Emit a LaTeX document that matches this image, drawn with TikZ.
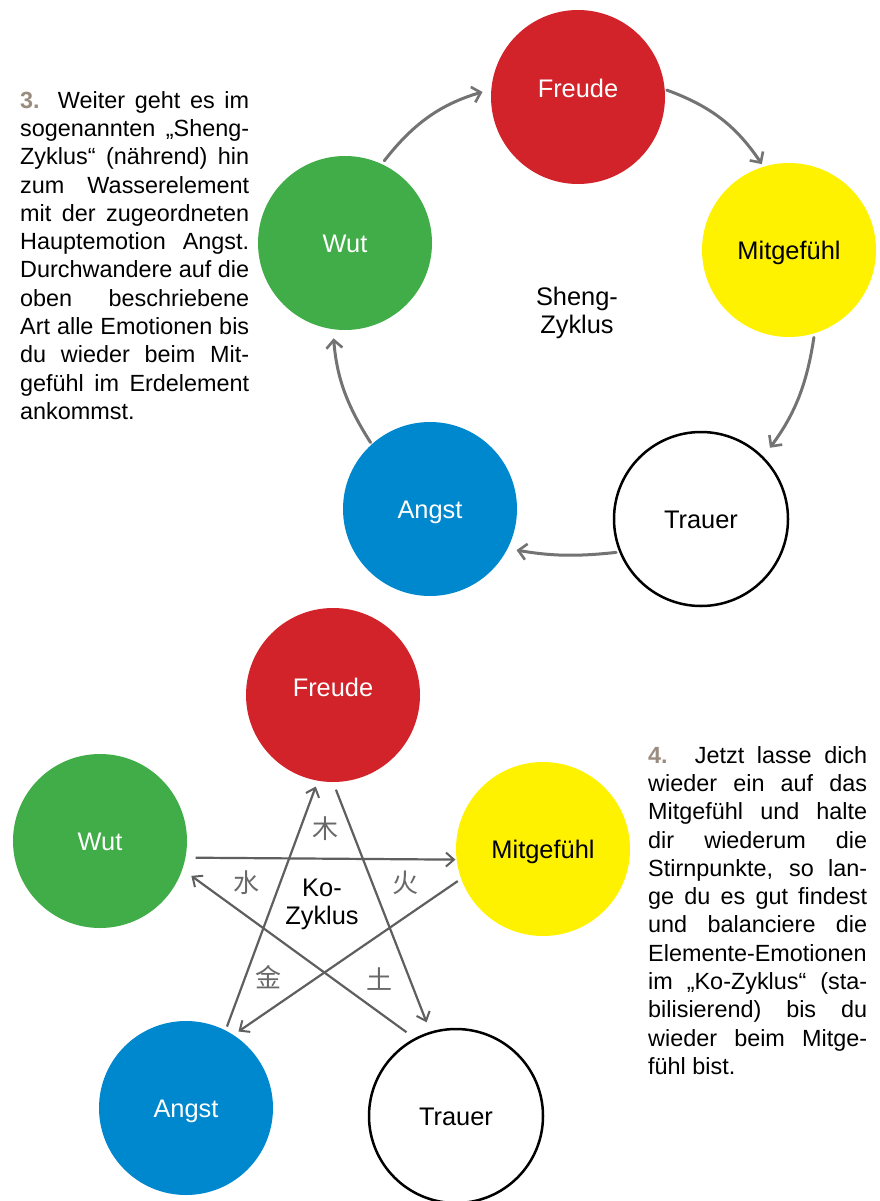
\documentclass[tikz,border=0pt]{standalone}
\usepackage{fontspec}
\setmainfont{Liberation Sans}
\newfontfamily\cjk{Noto Sans CJK SC}
\usetikzlibrary{arrows.meta}
\definecolor{cred}{RGB}{210,35,42}
\definecolor{cgreen}{RGB}{65,173,73}
\definecolor{cyellow}{RGB}{255,242,0}
\definecolor{cblue}{RGB}{0,136,206}
\definecolor{numcol}{RGB}{155,140,128}
\definecolor{arrcol}{RGB}{115,115,115}
\definecolor{starcol}{RGB}{95,95,95}
\definecolor{cjkcol}{RGB}{105,105,105}
\tikzset{
  emo/.style={circle, minimum size=174pt, inner sep=0pt, text height=18pt, text depth=0pt,
    font=\fontsize{25.4}{28}\selectfont},
  emored/.style={emo, fill=cred, text=white, text depth=16pt},
  emogreen/.style={emo, fill=cgreen, text=white},
  emoyellow/.style={emo, fill=cyellow, text=black},
  emoblue/.style={emo, fill=cblue, text=white},
  emowhite/.style={emo, fill=white, draw=black, line width=2.5pt, text=black},
  cyclearrow/.style={draw=arrcol, line width=3pt, line cap=round,
    -{Straight Barb[length=8pt,width=16pt,line width=2.6pt]}},
  stararrow/.style={draw=starcol, line width=2.2pt,
    -{Straight Barb[length=8pt,width=14pt,line width=2pt]}},
  cyclelabel/.style={align=center, inner sep=0pt, anchor=north, font=\fontsize{25.4}{28}\selectfont},
  paratext/.style={align=justify, inner sep=0pt, anchor=north west,
    font=\fontsize{23.4}{28.3}\selectfont},
  cjkchar/.style={inner sep=0pt, text=cjkcol, font=\cjk\fontsize{26}{26}\selectfont}
}
\begin{document}
\begin{tikzpicture}[x=1pt,y=-1pt]
\useasboundingbox[fill=white] (0,0) rectangle (880,1201);

% ---------------- Sheng cycle ----------------
\node[emored]    (f1) at (578,97)  {Freude};
\node[emoyellow] (m1) at (789,250) {Mitgefühl};
\node[emowhite]  (t1) at (701,519) {Trauer};
\node[emoblue]   (a1) at (430,509) {Angst};
\node[emogreen]  (w1) at (345,243) {Wut};
\node[cyclelabel] (sheng) at (577,287) {Sheng-\\Zyklus};

\draw[cyclearrow, shorten <=4pt, shorten >=9pt] (w1.65) to[bend left=18] (f1.175);
\draw[cyclearrow, shorten <=2pt, shorten >=3pt] (f1.5) to[bend left=18] (m1.107);
\draw[cyclearrow, shorten <=4pt, shorten >=11pt] (m1.-73) to[bend left=14] (t1.45);
\draw[cyclearrow, shorten <=3pt, shorten >=9pt] (t1.202) to[bend left=8] (a1.-27);
\draw[cyclearrow, shorten <=2pt, shorten >=9pt] (a1.132) to[bend left=14] (w1.-98);

% ---------------- Ko cycle ----------------
\node[emored]    (f2) at (333,695)  {Freude};
\node[emogreen]  (w2) at (100,841)  {Wut};
\node[emoyellow] (m2) at (543,849)  {Mitgefühl};
\node[emoblue]   (a2) at (186,1108) {Angst};
\node[emowhite]  (t2) at (456,1116) {Trauer};

\draw[stararrow, shorten <=10pt, shorten >=1pt] (w2.-11) -- (m2.187);
\draw[stararrow, shorten <=4pt, shorten >=6pt] (m2.200) -- (a2.57);
\draw[stararrow, shorten <=4pt, shorten >=6pt] (a2.63) -- (f2.-100);
\draw[stararrow, shorten <=8pt, shorten >=10pt] (f2.-90) -- (t2.107);
\draw[stararrow, shorten <=10pt, shorten >=11pt] (t2.118) -- (w2.-19);

\node[cjkchar] (cmu)   at (325,829) {木};
\node[cjkchar] (cshui) at (246,883) {水};
\node[cjkchar] (chuo)  at (405,883) {火};
\node[cjkchar] (cjin)  at (268,977) {金};
\node[cjkchar] (ctu)   at (379,979) {土};

\node[cyclelabel] (ko) at (322,879) {Ko-\\Zyklus};

% ---------------- texts ----------------
\node[paratext, text width=229pt] (txt3) at (20,91) {\tolerance=10000\hyphenpenalty=10000%
\textcolor{numcol}{\textbf{3.}} Weiter geht es im\linebreak
sogenannten „Sheng-\linebreak
Zyklus“ (nährend) hin\linebreak
zum Wasserelement\linebreak
mit der zugeordneten\linebreak
Hauptemotion Angst.\linebreak
Durchwandere auf die\linebreak
oben beschriebene\linebreak
Art alle Emotionen bis\linebreak
du wieder beim Mit-\linebreak
gefühl im Erdelement\linebreak
ankommst.};

\node[paratext, text width=219pt] (txt4) at (648,746) {\tolerance=10000\hyphenpenalty=10000%
\textcolor{numcol}{\textbf{4.}} Jetzt lasse dich\linebreak
wieder ein auf das\linebreak
Mitgefühl und halte\linebreak
dir wiederum die\linebreak
Stirnpunkte, so lan-\linebreak
ge du es gut findest\linebreak
und balanciere die\linebreak
Elemente-Emotionen\linebreak
im „Ko-Zyklus“ (sta-\linebreak
bilisierend) bis du\linebreak
wieder beim Mitge-\linebreak
fühl bist.};
\end{tikzpicture}
\end{document}
